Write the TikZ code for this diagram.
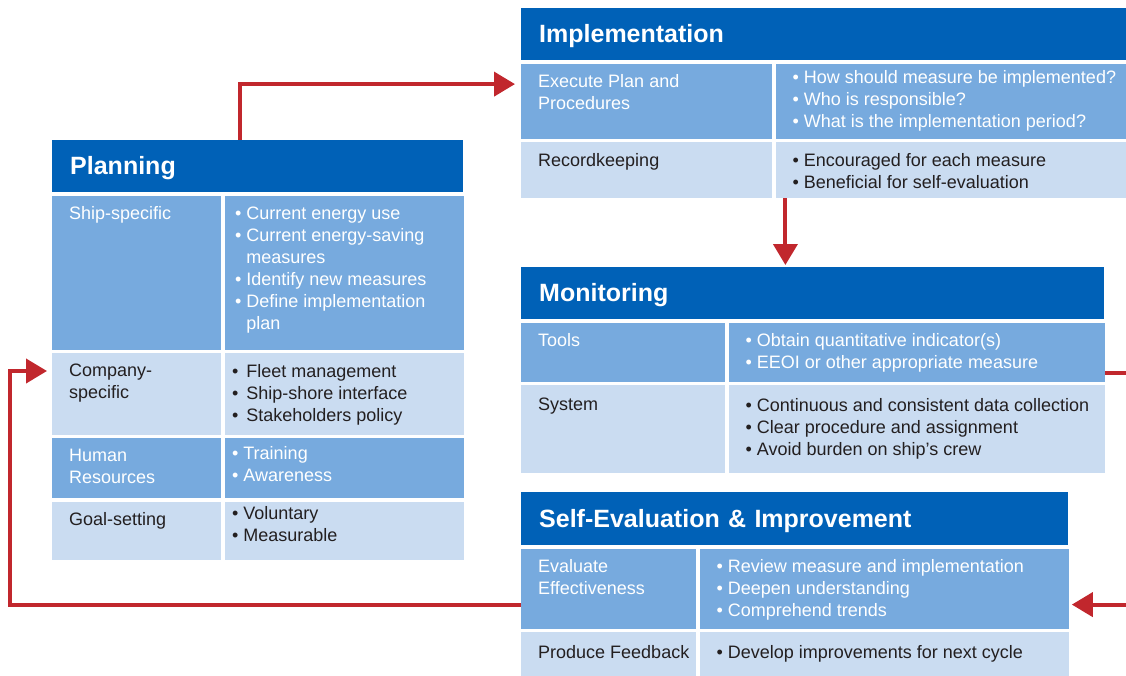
\documentclass[tikz,border=0pt]{standalone}
\usepackage{fontspec}
\setmainfont{Liberation Sans}
\usetikzlibrary{arrows.meta, positioning}

\definecolor{headblue}{HTML}{0061B7}
\definecolor{midblue}{HTML}{77AADE}
\definecolor{paleblue}{HTML}{CADCF1}
\definecolor{loopred}{HTML}{C1272D}
\definecolor{darkgrey}{HTML}{231F20}

\begin{document}
\begin{tikzpicture}[
    x=1pt, y=-1pt,
    node distance=3pt,
    head/.style={
        anchor=north west,
        fill=headblue,
        text=white,
        font=\fontsize{25}{30}\selectfont\bfseries,
        inner xsep=18pt,
        inner ysep=0pt,
        text height=18pt,
        text depth=1pt,
        minimum height=52pt,
        align=left
    },
    cell/.style={inner sep=0pt},
    dark/.style={cell, fill=midblue},
    pale/.style={cell, fill=paleblue},
    txt/.style={
        anchor=north west,
        align=left,
        inner xsep=17pt,
        inner ysep=11pt,
        font=\fontsize{18}{22}\selectfont
    },
    wtxt/.style={txt, text=white},
    btxt/.style={txt, text=darkgrey},
    flow/.style={-{Triangle[length=21pt,width=24pt]}, line width=4pt, draw=loopred}
]
\useasboundingbox (0,0) rectangle (1126,675);

% Planning
\node[head, text width=375pt] (plan) at (52,140) {Planning};
\node[dark, minimum width=169pt, minimum height=154pt, below right=3pt and 0pt of plan.south west] (shipL) {};
\node[dark, minimum width=239pt, minimum height=154pt, below right=0pt and 3pt of shipL.north east] (shipR) {};
\node[pale, minimum width=169pt, minimum height=82pt, below right=3pt and 0pt of shipL.south west] (compL) {};
\node[pale, minimum width=239pt, minimum height=82pt, below right=0pt and 3pt of compL.north east] (compR) {};
\node[dark, minimum width=169pt, minimum height=60pt, below right=3pt and 0pt of compL.south west] (humL) {};
\node[dark, minimum width=239pt, minimum height=60pt, below right=0pt and 3pt of humL.north east] (humR) {};
\node[pale, minimum width=169pt, minimum height=58pt, below right=3pt and 0pt of humL.south west] (goalL) {};
\node[pale, minimum width=239pt, minimum height=58pt, below right=0pt and 3pt of goalL.north east] (goalR) {};

\node[wtxt] (shipLt) at (shipL.north west) {Ship-specific};
\node[wtxt, inner xsep=10.5pt] (shipRt) at (shipR.north west) {\textbullet\ Current energy use\\\textbullet\ Current energy-saving\\\phantom{\textbullet\ }measures\\\textbullet\ Identify new measures\\\textbullet\ Define implementation\\\phantom{\textbullet\ }plan};
\node[btxt] (compLt) at (compL.north west) {Company-\\specific};
\node[btxt, inner xsep=7.5pt] (compRt) at (compR.north west) {\textbullet\ \,Fleet management\\\textbullet\ \,Ship-shore interface\\\textbullet\ \,Stakeholders policy};
\node[wtxt] (humLt) at (humL.north west) {Human\\Resources};
\node[wtxt, inner xsep=7.5pt, inner ysep=8pt] (humRt) at (humR.north west) {\textbullet\ Training\\\textbullet\ Awareness};
\node[btxt] (goalLt) at (goalL.north west) {Goal-setting};
\node[btxt, inner xsep=7.5pt, inner ysep=5pt] (goalRt) at (goalR.north west) {\textbullet\ Voluntary\\\textbullet\ Measurable};

% Implementation
\node[head, text width=569pt] (impl) at (521,8) {Implementation};
\node[dark, minimum width=251pt, minimum height=75pt, below right=3pt and 0pt of impl.south west] (implAl) {};
\node[dark, minimum width=351pt, minimum height=75pt, below right=0pt and 3pt of implAl.north east] (implAr) {};
\node[pale, minimum width=251pt, minimum height=56pt, below right=3pt and 0pt of implAl.south west] (implBl) {};
\node[pale, minimum width=351pt, minimum height=56pt, below right=0pt and 3pt of implBl.north east] (implBr) {};

\node[wtxt] (implAlt) at (implAl.north west) {Execute Plan and\\Procedures};
\node[wtxt, inner ysep=7pt] (implArt) at (implAr.north west) {\textbullet\ How should measure be implemented?\\\textbullet\ Who is responsible?\\\textbullet\ What is the implementation period?};
\node[btxt] (implBlt) at (implBl.north west) {Recordkeeping};
\node[btxt] (implBrt) at (implBr.north west) {\textbullet\ Encouraged for each measure\\\textbullet\ Beneficial for self-evaluation};

% Monitoring
\node[head, text width=547pt] (mon) at (521,267) {Monitoring};
\node[dark, minimum width=204pt, minimum height=59pt, below right=3pt and 0pt of mon.south west] (monAl) {};
\node[dark, minimum width=376pt, minimum height=59pt, below right=0pt and 3pt of monAl.north east] (monAr) {};
\node[pale, minimum width=204pt, minimum height=88pt, below right=3pt and 0pt of monAl.south west] (monBl) {};
\node[pale, minimum width=376pt, minimum height=88pt, below right=0pt and 3pt of monBl.north east] (monBr) {};

\node[wtxt] (monAlt) at (monAl.north west) {Tools};
\node[wtxt] (monArt) at (monAr.north west) {\textbullet\ Obtain quantitative indicator(s)\\\textbullet\ EEOI or other appropriate measure};
\node[btxt, inner ysep=13pt] (monBlt) at (monBl.north west) {System};
\node[btxt, inner ysep=13pt] (monBrt) at (monBr.north west) {\textbullet\ Continuous and consistent data collection\\\textbullet\ Clear procedure and assignment\\\textbullet\ Avoid burden on ship’s crew};

% Self-Evaluation
\node[head, text width=511pt, minimum height=53pt] (self) at (521,492) {Self-Evaluation \& Improvement};
\node[dark, minimum width=175pt, minimum height=80pt, below right=3pt and 0pt of self.south west] (selfAl) {};
\node[dark, minimum width=369pt, minimum height=80pt, below right=0pt and 3pt of selfAl.north east] (selfAr) {};
\node[pale, minimum width=175pt, minimum height=46pt, below right=3pt and 0pt of selfAl.south west] (selfBl) {};
\node[pale, minimum width=369pt, minimum height=46pt, below right=0pt and 3pt of selfBl.north east] (selfBr) {};

\node[wtxt] (selfAlt) at (selfAl.north west) {Evaluate\\Effectiveness};
\node[wtxt] (selfArt) at (selfAr.north west) {\textbullet\ Review measure and implementation\\\textbullet\ Deepen understanding\\\textbullet\ Comprehend trends};
\node[btxt, inner ysep=13pt] (selfBlt) at (selfBl.north west) {Produce Feedback};
\node[btxt, inner ysep=13pt] (selfBrt) at (selfBr.north west) {\textbullet\ Develop improvements for next cycle};

% loop arrows
\coordinate (drop) at ([xshift=10pt]implBr.south west);
\draw[flow, shorten >=6pt] ([xshift=-18pt]plan.north) |- ([yshift=17pt]implAl.west);
\draw[flow, shorten >=2pt] (drop) -- (drop |- mon.north);
\draw[flow, shorten >=3pt] ([yshift=-21pt]monAr.east) -- ++(60,0) |- ([yshift=-16pt]selfAr.east);
\draw[flow, shorten >=5pt] ([yshift=-16pt]selfAl.west) -- ++(-511,0) |- ([yshift=23pt]compL.west);

\end{tikzpicture}
\end{document}
